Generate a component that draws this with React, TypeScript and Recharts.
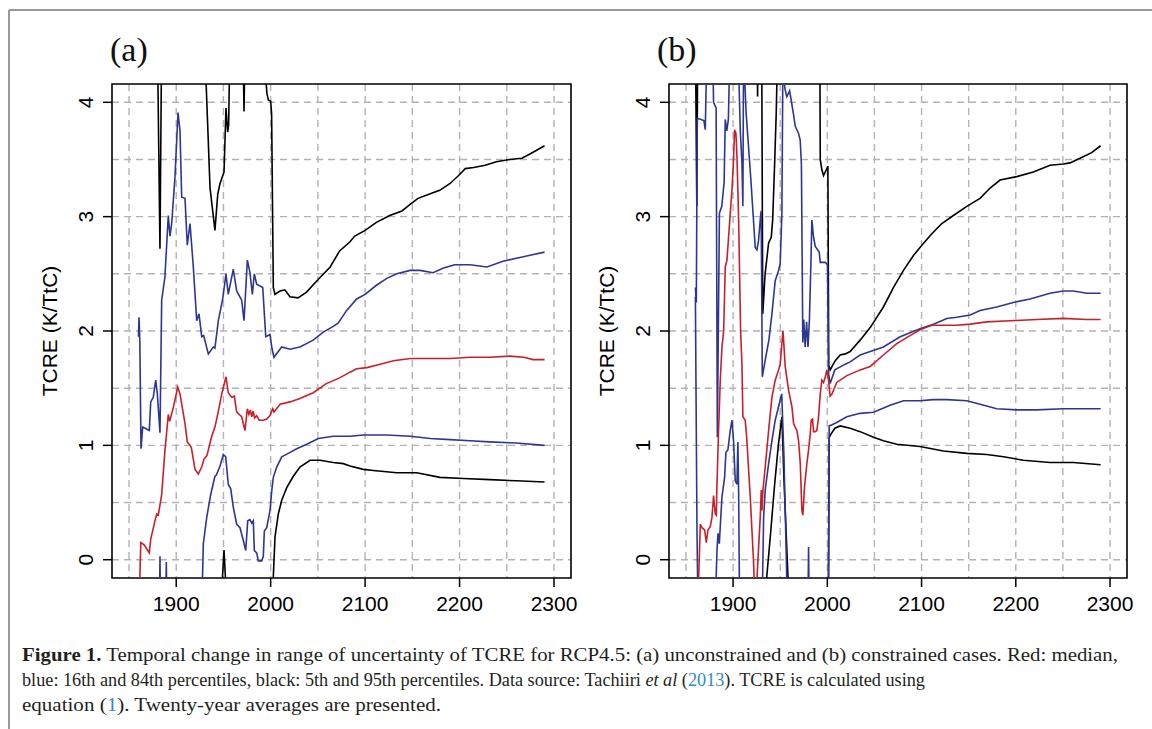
import React from 'react'
import { LineChart, Line, XAxis, YAxis, CartesianGrid, ReferenceArea } from 'recharts'

// ---- axes / grid ----
const xTicks = [1900, 2000, 2100, 2200, 2300]
const yTicks = [0, 1, 2, 3, 4]
const gridYears = [1850, 1900, 1950, 2000, 2050, 2100, 2150, 2200, 2250, 2300]
const gridValues = [0, 0.5, 1, 1.5, 2, 2.5, 3, 3.5, 4]

// ---- (a) unconstrained ----
// 95th percentile (black)
const aP95Years = [1860, 1879, 1880, 1882.8, 1884.6, 1930, 1931.5, 1935.8, 1941, 1944, 1946.4, 1950.6, 1952.7, 1954.5, 1955.5, 1957, 1970.5, 1971.8, 1973, 1994, 1996, 1997.5, 2000, 2001, 2002.8, 2004.6, 2008, 2010, 2015, 2020.5, 2029, 2038, 2049, 2063, 2073, 2084, 2089, 2100, 2112, 2126, 2139, 2148, 2156, 2169, 2179, 2190, 2199, 2206, 2215, 2227, 2239, 2253, 2266, 2275, 2290]
const aP95 = [6, 6, 4.6, 2.72, 4.6, 4.6, 4.2, 3.25, 2.88, 3.2, 3.29, 3.39, 3.95, 3.74, 3.8, 4.6, 4.6, 3.92, 4.6, 4.3, 4.08, 4.02, 4.01, 3.9, 2.38, 2.32, 2.34, 2.35, 2.36, 2.3, 2.29, 2.34, 2.44, 2.56, 2.7, 2.78, 2.83, 2.88, 2.95, 3.01, 3.05, 3.11, 3.16, 3.2, 3.23, 3.29, 3.36, 3.42, 3.43, 3.45, 3.48, 3.5, 3.51, 3.55, 3.62]
// 84th percentile (blue)
const aP84Years = [1860, 1860.6, 1861.5, 1862.7, 1864.5, 1867, 1871.5, 1873, 1875.7, 1878.3, 1880, 1882.8, 1884.6, 1888, 1891.6, 1893.4, 1895.2, 1898.7, 1901.9, 1904, 1905.8, 1909.3, 1911.7, 1914.6, 1918.1, 1921.7, 1924.1, 1927, 1929, 1934, 1939.3, 1941, 1944.6, 1949.2, 1952.7, 1955.1, 1960.4, 1964, 1969.3, 1971.8, 1975.3, 1978.1, 1980.6, 1982.7, 1985.2, 1991.6, 1994.8, 1999.3, 2001.1, 2003.5, 2011.7, 2020.5, 2031, 2045, 2055.7, 2066.3, 2071.6, 2080.5, 2091, 2100, 2112, 2123, 2133.5, 2147.6, 2158, 2172, 2183, 2195, 2211, 2229, 2246, 2267.5, 2290]
const aP84 = [1.95, 2.12, 1.9, 0.97, 1.16, 1.15, 1.13, 1.38, 1.42, 1.57, 1.45, 1.11, 2.27, 2.47, 3.01, 2.83, 2.94, 3.35, 3.91, 3.75, 3.17, 3.16, 2.75, 2.94, 2.56, 2.09, 2.15, 1.95, 1.96, 1.8, 1.86, 1.85, 2.09, 2.28, 2.5, 2.32, 2.54, 2.35, 2.27, 2.09, 2.62, 2.51, 2.32, 2.5, 2.41, 2.38, 1.95, 1.97, 1.86, 1.77, 1.86, 1.84, 1.86, 1.92, 1.99, 2.04, 2.07, 2.18, 2.28, 2.32, 2.4, 2.46, 2.5, 2.53, 2.53, 2.51, 2.55, 2.58, 2.58, 2.56, 2.61, 2.65, 2.69]
// median (red)
const aP50Years = [1861, 1862.5, 1866, 1871.5, 1873, 1877.5, 1879.3, 1881, 1884.6, 1888, 1891.6, 1893, 1896.9, 1901.6, 1904, 1909.3, 1911.7, 1914.6, 1916, 1919.9, 1923.4, 1927, 1929.4, 1932.5, 1937.6, 1941, 1944.6, 1948.2, 1952.7, 1955.1, 1958.8, 1961.5, 1964, 1969.3, 1972.8, 1975.3, 1977, 1978.5, 1980, 1981.5, 1983, 1985, 1988, 1992.2, 1995.8, 1999.3, 2002.2, 2003.5, 2009.9, 2020.5, 2031, 2045, 2059, 2073, 2084, 2091, 2102, 2116, 2130, 2148, 2169, 2190, 2211, 2232, 2253, 2268, 2278, 2290]
const aP50 = [-0.3, 0.15, 0.13, 0.06, 0.18, 0.34, 0.4, 0.39, 0.57, 0.95, 1.27, 1.21, 1.33, 1.51, 1.45, 1.19, 1.03, 1.0, 0.98, 0.79, 0.75, 0.81, 0.88, 0.91, 1.08, 1.16, 1.3, 1.45, 1.6, 1.46, 1.42, 1.43, 1.29, 1.25, 1.13, 1.32, 1.27, 1.31, 1.25, 1.3, 1.24, 1.26, 1.22, 1.22, 1.23, 1.26, 1.32, 1.29, 1.36, 1.38, 1.41, 1.46, 1.54, 1.59, 1.64, 1.67, 1.68, 1.71, 1.74, 1.76, 1.76, 1.76, 1.77, 1.77, 1.78, 1.77, 1.75, 1.75]
// 16th percentile (blue)
const aP16Years = [1860, 1882, 1882.8, 1883.6, 1888.5, 1889.5, 1890.5, 1926.5, 1928.7, 1932.3, 1936.5, 1941, 1942.5, 1946.4, 1949.9, 1952.4, 1955.1, 1957.7, 1960.4, 1964, 1967.5, 1971, 1973.6, 1975.7, 1978, 1980, 1981.6, 1982.7, 1985.2, 1986.9, 1990.5, 1992.2, 1993.3, 1995.8, 1999.3, 2001.1, 2002.8, 2006.4, 2011.7, 2018.7, 2027.6, 2038.2, 2050.5, 2066.3, 2084, 2098, 2123, 2148, 2169, 2190, 2211, 2232, 2260, 2290]
const aP16 = [-0.6, -0.6, 0.03, -0.6, -0.6, -0.02, -0.6, -0.6, 0.14, 0.37, 0.57, 0.73, 0.74, 0.82, 0.92, 0.9, 0.66, 0.62, 0.46, 0.31, 0.28, 0.17, 0.08, 0.34, 0.35, 0.32, 0.34, 0.08, 0.06, -0.01, -0.01, 0.03, 0.25, 0.28, 0.43, 0.6, 0.72, 0.81, 0.9, 0.93, 0.97, 1.01, 1.06, 1.08, 1.08, 1.09, 1.09, 1.08, 1.06, 1.05, 1.04, 1.03, 1.02, 1.0]
// 5th percentile (black)
const aP5Years = [1860, 1948, 1950.6, 1953, 2001.5, 2002.8, 2004.6, 2008.1, 2011.7, 2017, 2024, 2031, 2041.7, 2052.3, 2066.3, 2076.9, 2084, 2098, 2108.7, 2133.5, 2154.6, 2179.3, 2204, 2232, 2260, 2290]
const aP5 = [-1, -0.3, 0.085, -0.3, -1, -0.15, 0.2, 0.4, 0.52, 0.63, 0.73, 0.81, 0.87, 0.87, 0.85, 0.84, 0.82, 0.79, 0.78, 0.76, 0.76, 0.72, 0.71, 0.7, 0.69, 0.68]

// ---- (b) constrained ----
const bP95Years = [1860, 1861.5, 1862.5, 1925.5, 1926, 1926.5, 1930.3, 1931.5, 1934, 1937.7, 1940.5, 1942, 1944, 1945.8, 1947.6, 1992, 1992.5, 1994.2, 1996, 2000.6, 2001.5, 2003, 2008.4, 2013.6, 2019, 2024.2, 2034.8, 2045.5, 2059.5, 2070.1, 2080.8, 2091.4, 2100.3, 2110.9, 2121.5, 2133.8, 2148, 2162.1, 2172.7, 2183.3, 2201, 2218.6, 2236.3, 2250.4, 2257.5, 2268.1, 2280.5, 2290]
const bP95 = [4.6, 3.09, 4.6, 4.6, 4.05, 4.6, 4.6, 2.15, 2.5, 2.77, 2.82, 2.97, 3.44, 3.91, 4.6, 4.6, 3.5, 3.41, 3.36, 3.44, 1.7, 1.66, 1.74, 1.79, 1.8, 1.82, 1.92, 2.03, 2.21, 2.38, 2.53, 2.66, 2.75, 2.85, 2.94, 3.01, 3.09, 3.16, 3.25, 3.32, 3.35, 3.39, 3.45, 3.46, 3.47, 3.51, 3.56, 3.62]
const bP84Years = [1860, 1861, 1862, 1866, 1869, 1870.5, 1872.5, 1878, 1879.3, 1882, 1883.3, 1885.5, 1888, 1890.5, 1891.7, 1893.3, 1895, 1897, 1905, 1907.6, 1909.4, 1910.4, 1911.2, 1911.8, 1913.9, 1916.4, 1918.9, 1923.5, 1925.3, 1927, 1928.8, 1929.8, 1931, 1934, 1938, 1941.2, 1944.7, 1948.3, 1950, 1951.8, 1952.8, 1955, 1957, 1960, 1964, 1966, 1969.4, 1971.2, 1972.5, 1974, 1975, 1976.5, 1978, 1979.5, 1981, 1982.6, 1983.6, 1985.4, 1987.2, 1991.4, 1992.5, 1997.8, 2000.2, 2001.3, 2003, 2008, 2019, 2024.2, 2034.8, 2045.5, 2059.5, 2077.3, 2098.3, 2112.6, 2126.8, 2137.4, 2151.5, 2162.1, 2179.8, 2197.4, 2215.1, 2236.3, 2250.4, 2261, 2275.2, 2290]
const bP84 = [2.38, 2.25, 3.86, 3.85, 3.84, 3.76, 4.6, 4.6, 4.0, 3.95, 1.07, 3.03, 3.09, 3.3, 3.85, 3.75, 3.85, 4.6, 4.6, 3.76, 3.47, 3.09, 4.6, 4.3, 3.9, 3.61, 3.32, 2.73, 2.71, 2.79, 2.97, 3.05, 1.6, 1.74, 1.92, 2.15, 2.44, 2.53, 2.59, 3.03, 4.3, 4.12, 4.05, 4.1, 3.9, 3.79, 3.73, 3.67, 3.46, 1.9, 2.1, 1.86, 2.08, 1.86, 2.1, 2.6, 2.97, 2.82, 2.74, 2.69, 2.6, 2.6, 2.58, 1.63, 1.54, 1.66, 1.71, 1.73, 1.79, 1.82, 1.86, 1.95, 2.02, 2.06, 2.11, 2.12, 2.14, 2.18, 2.21, 2.25, 2.28, 2.33, 2.35, 2.35, 2.33, 2.33]
const bP50Years = [1863, 1865.2, 1867, 1869.8, 1871.6, 1873.3, 1875.8, 1877.6, 1879.3, 1881.1, 1882.2, 1882.9, 1884.6, 1886.4, 1888.2, 1890, 1891.7, 1893.5, 1895.2, 1897, 1898.8, 1900.5, 1901.6, 1903, 1904.1, 1905.9, 1906.9, 1908, 1909.4, 1910.4, 1912.9, 1914.7, 1916.5, 1918.2, 1920, 1921.8, 1922.8, 1924.5, 1925.3, 1927.1, 1928.8, 1929.9, 1930.6, 1931.7, 1934.1, 1937.7, 1941.2, 1944.7, 1948.3, 1950, 1951.8, 1952.9, 1953.6, 1955.3, 1958.9, 1960.6, 1962.4, 1964.2, 1965.9, 1967.7, 1969.5, 1971.3, 1973, 1974.1, 1975.8, 1978.3, 1980.1, 1981.9, 1982.9, 1984.3, 1985.4, 1987.2, 1988.9, 1990.7, 1992.5, 1994.2, 1996, 1997.8, 1999.5, 2001.3, 2003, 2005, 2010, 2020.7, 2034.8, 2045.5, 2059.5, 2073.7, 2087.8, 2098.3, 2110.9, 2137.4, 2151.5, 2169.2, 2193.9, 2222.2, 2250.4, 2275.2, 2290]
const bP50 = [-0.3, 0.31, 0.28, 0.26, 0.15, 0.26, 0.29, 0.37, 0.56, 0.4, 0.39, 0.66, 1.13, 1.57, 1.86, 2.0, 2.56, 2.62, 2.82, 3.03, 3.23, 3.5, 3.76, 3.73, 3.53, 2.97, 2.5, 2.0, 1.71, 1.25, 1.22, 1.04, 0.78, 0.55, 0.26, -0.03, -0.3, -0.3, -0.17, 0.11, 0.37, 0.61, 0.43, 0.61, 0.81, 1.13, 1.42, 1.57, 1.66, 1.71, 1.89, 2.0, 1.92, 1.69, 1.48, 1.41, 1.34, 1.19, 1.16, 1.13, 1.04, 0.84, 0.43, 0.39, 0.64, 0.84, 0.96, 1.1, 1.22, 1.23, 1.12, 1.12, 1.13, 1.25, 1.45, 1.57, 1.55, 1.6, 1.66, 1.57, 1.43, 1.45, 1.55, 1.61, 1.66, 1.69, 1.79, 1.89, 1.96, 2.01, 2.05, 2.05, 2.06, 2.08, 2.09, 2.1, 2.11, 2.1, 2.1]
const bP16Years = [1860, 1861.7, 1863, 1880.4, 1882.9, 1884, 1885.4, 1886.4, 1888.2, 1891, 1892.4, 1894.5, 1897, 1898.8, 1900.5, 1902.3, 1904.1, 1905.1, 1905.9, 1906.8, 1930.5, 1931.3, 1932.4, 1934.1, 1937.7, 1941.2, 1944.7, 1948.3, 1951.6, 1954, 1957, 1958, 1979.2, 1980.1, 1981, 2001, 2002, 2005, 2010, 2020.7, 2034.8, 2049, 2066.6, 2080.8, 2098.3, 2112.6, 2126.8, 2148, 2162.1, 2179.8, 2201, 2222.2, 2250.4, 2275.2, 2290]
const bP16 = [2.3, 0.26, -0.6, -0.6, 0.08, 0.23, 0.14, 0.29, 0.55, 0.72, 0.94, 0.96, 1.13, 1.22, 1.04, 0.69, 0.66, 1.03, 0.58, -0.3, -0.3, -0.17, 0.37, 0.61, 0.84, 1.04, 1.22, 1.34, 1.45, 0.9, -0.17, -0.6, -0.6, 0.11, -0.6, -0.6, 1.17, 1.18, 1.2, 1.25, 1.28, 1.29, 1.35, 1.39, 1.39, 1.4, 1.4, 1.39, 1.36, 1.32, 1.31, 1.31, 1.32, 1.32, 1.32]
const bP5Years = [1860, 1935.5, 1940, 1944, 1948, 1951.8, 1954, 1957, 1959, 2001, 2002, 2004, 2008, 2013.6, 2024.2, 2034.8, 2049, 2059.5, 2073.7, 2098.3, 2123.2, 2148, 2169.2, 2187, 2208, 2236.3, 2261, 2290]
const bP5 = [-1, -0.17, 0.25, 0.65, 1.0, 1.25, 0.7, 0.1, -0.3, -0.6, 1.07, 1.1, 1.15, 1.17, 1.15, 1.12, 1.07, 1.04, 1.01, 0.99, 0.95, 0.93, 0.92, 0.9, 0.87, 0.85, 0.85, 0.83]

const SANS = '"Liberation Sans", Arial, Helvetica, sans-serif'
const SERIF = '"Liberation Serif", "Times New Roman", serif'
const RED = '#c8202a'
const BLUE = '#2e3790'
const BLACK = '#000000'
const LINK = '#2f8bc9'

type Series = { years: number[]; values: number[]; color: string }

const pts = (years: number[], values: number[]) => years.map((year, i) => ({ year, v: values[i] }))

function YTick(props: any) {
  const { x, y, payload } = props
  return (
    <text x={x} y={y} transform={`rotate(-90 ${x} ${y})`} textAnchor="middle"
      fontSize={21} fontFamily={SANS} fill="#000">
      {payload.value}
    </text>
  )
}

function Panel({ series, right }: { series: Series[]; right: number }) {
  return (
    <LineChart width={580} height={640} margin={{ top: 84, right, bottom: 22, left: 0 }}>
      <CartesianGrid horizontalValues={gridValues} verticalValues={gridYears}
        stroke="#b3b3b3" strokeDasharray="7 5" strokeWidth={1.4} />
      <XAxis type="number" dataKey="year" domain={[1832, 2318]} ticks={xTicks} interval={0}
        allowDataOverflow height={40} tickSize={9} tickMargin={9} axisLine={false}
        tickLine={{ stroke: '#000', strokeWidth: 1.5 }}
        tick={{ fontSize: 21, fill: '#000', fontFamily: SANS }} />
      <YAxis type="number" domain={[-0.16, 4.16]} ticks={yTicks} interval={0}
        allowDataOverflow width={112} tickSize={9} tickMargin={10} axisLine={false}
        tickLine={{ stroke: '#000', strokeWidth: 1.5 }} tick={YTick} />
      {series.map((s, i) => (
        <Line key={i} data={pts(s.years, s.values)} dataKey="v" type="linear"
          stroke={s.color} strokeWidth={1.6} dot={false} activeDot={false}
          isAnimationActive={false} />
      ))}
      <ReferenceArea x1={1832} x2={2318} y1={-0.16} y2={4.16} fill="none"
        fillOpacity={0} stroke="#000" strokeWidth={1.6} ifOverflow="visible" />
    </LineChart>
  )
}

const seriesA: Series[] = [
  { years: aP95Years, values: aP95, color: BLACK },
  { years: aP5Years, values: aP5, color: BLACK },
  { years: aP84Years, values: aP84, color: BLUE },
  { years: aP16Years, values: aP16, color: BLUE },
  { years: aP50Years, values: aP50, color: RED },
]

const seriesB: Series[] = [
  { years: bP95Years, values: bP95, color: BLACK },
  { years: bP5Years, values: bP5, color: BLACK },
  { years: bP84Years, values: bP84, color: BLUE },
  { years: bP16Years, values: bP16, color: BLUE },
  { years: bP50Years, values: bP50, color: RED },
]

export default function App() {
  return (
    <div style={{ position: 'absolute', left: 0, top: 0, width: 1152, height: 729, background: '#fff', overflow: 'hidden' }}>
      <div style={{ position: 'absolute', left: 0, top: 0 }}>
        <Panel series={seriesA} right={9} />
      </div>
      <div style={{ position: 'absolute', left: 557, top: 0 }}>
        <Panel series={seriesB} right={10} />
      </div>
      <svg width={1152} height={729} style={{ position: 'absolute', left: 0, top: 0, pointerEvents: 'none' }}>
        <line x1={9} y1={10} x2={1152} y2={10} stroke="#999" strokeWidth={2} />
        <line x1={9} y1={10} x2={9} y2={729} stroke="#999" strokeWidth={2} />
        <text x={110} y={61} fontFamily={SERIF} fontSize={34} fill="#111">(a)</text>
        <text x={657} y={61} fontFamily={SERIF} fontSize={34} fill="#111">(b)</text>
        <text x={57} y={331} transform="rotate(-90 57 331)" textAnchor="middle" fontFamily={SANS} fontSize={21} fill="#000">TCRE (K/TtC)</text>
        <text x={614} y={331} transform="rotate(-90 614 331)" textAnchor="middle" fontFamily={SANS} fontSize={21} fill="#000">TCRE (K/TtC)</text>
        <g fontFamily={SERIF} fill="#231f20">
          <text x={22} y={661} fontSize={19} textLength={1096} lengthAdjust="spacingAndGlyphs">
            <tspan fontWeight="bold">Figure 1.</tspan>
            {' Temporal change in range of uncertainty of TCRE for RCP4.5: (a) unconstrained and (b) constrained cases. Red: median,'}
          </text>
          <text x={22} y={686} fontSize={18} textLength={903} lengthAdjust="spacingAndGlyphs">
            {'blue: 16th and 84th percentiles, black: 5th and 95th percentiles. Data source: Tachiiri '}
            <tspan fontStyle="italic">et al</tspan>
            {' ('}
            <tspan fill={LINK}>2013</tspan>
            {'). TCRE is calculated using'}
          </text>
          <text x={22} y={711} fontSize={18} textLength={419} lengthAdjust="spacingAndGlyphs">
            {'equation ('}
            <tspan fill={LINK}>1</tspan>
            {'). Twenty-year averages are presented.'}
          </text>
        </g>
      </svg>
    </div>
  )
}
